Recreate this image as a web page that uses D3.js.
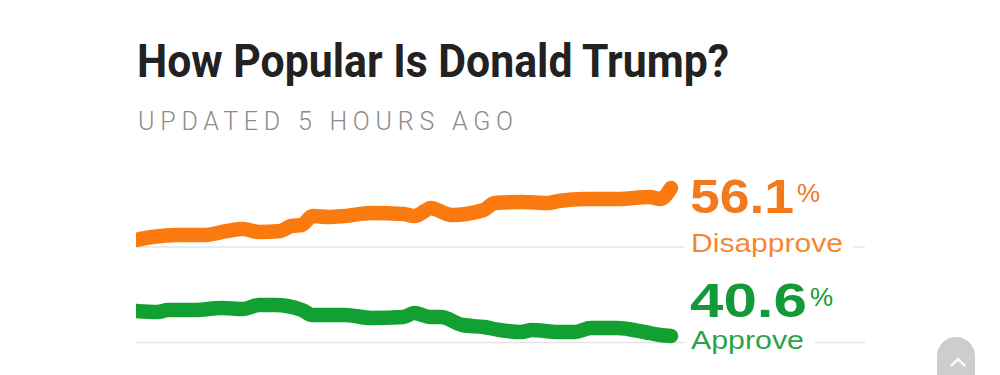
<!DOCTYPE html>
<html>
<head>
<meta charset="utf-8">
<script src="https://cdn.jsdelivr.net/npm/d3@7"></script>
<style>
    html, body { margin: 0; padding: 0; background: #fff; }
    svg { display: block; }
</style>
</head>
<body>
<div id="chart"></div>
<script>
// Значения (день периода -> процент)
const disapproveDays = [0, 3, 8, 13, 17, 20, 23, 27, 29, 31, 33, 36, 39, 44, 50, 52, 54, 55, 59, 65, 67, 72, 77, 79, 84, 90, 96, 98, 100];
const disapproveValues = [50.9, 51.2, 51.4, 51.4, 51.8, 52.0, 51.7, 51.8, 52.3, 52.4, 53.3, 53.2, 53.3, 53.6, 53.5, 53.3, 53.8, 54.1, 53.4, 53.9, 54.6, 54.7, 54.6, 54.8, 55.0, 55.0, 55.2, 55.0, 56.1];

const approveDays = [0, 4, 6, 11, 16, 20, 23, 26, 31, 33, 39, 44, 50, 52, 55, 57, 61, 65, 68, 72, 74, 79, 82, 85, 90, 95, 98, 100];
const approveValues = [43.1, 43.0, 43.2, 43.2, 43.4, 43.3, 43.7, 43.7, 43.2, 42.7, 42.7, 42.4, 42.5, 42.9, 42.5, 42.5, 41.7, 41.5, 41.2, 41.0, 41.2, 41.0, 41.0, 41.4, 41.4, 41.0, 40.7, 40.6];

const titleText = "How Popular Is Donald Trump?";
const subtitleText = "UPDATED 5 HOURS AGO";
const seriesLabels = ["Disapprove", "Approve"];
const latestValues = ["56.1", "40.6"];

const width = 1000;
const height = 375;

const orange = "#fb7a10";
const orangeText = "#f27a1c";
const green = "#12a032";
const greenText = "#139a38";

const svg = d3.select("#chart").append("svg")
    .attr("width", width)
    .attr("height", height);

// Подгонка текста по ширине
function fitText(sel, target, adjust) {
    const len = sel.node().getComputedTextLength();
    if (Math.abs(len - target) > 1) {
        sel.attr("textLength", target).attr("lengthAdjust", adjust || "spacingAndGlyphs");
    }
    return sel;
}

const title = svg.append("text")
    .attr("x", 137)
    .attr("y", 77)
    .attr("font-family", "Roboto, 'Liberation Sans', sans-serif")
    .attr("font-weight", 700)
    .attr("font-size", 47)
    .attr("fill", "#222")
    .text(titleText);
fitText(title, 592);

const subtitle = svg.append("text")
    .attr("x", 138)
    .attr("y", 130)
    .attr("font-family", "Roboto, 'Liberation Sans Narrow', sans-serif")
    .attr("font-weight", 300)
    .attr("font-size", 25)
    .attr("fill", "#8b8b8b")
    .text(subtitleText);
fitText(subtitle, 375, "spacing");

const x = d3.scaleLinear().domain([0, 100]).range([136, 671]);
const yDis = d3.scaleLinear().domain([50, 57]).range([249, 179]);
const yApp = d3.scaleLinear().domain([40, 47]).range([342, 272]);

svg.append("defs").append("clipPath")
    .attr("id", "plot-clip")
    .append("rect")
    .attr("x", 136).attr("y", 150)
    .attr("width", 560).attr("height", 220);

const panels = [
    { days: disapproveDays, values: disapproveValues, y: yDis, color: orange, textColor: orangeText,
      base: 247, numY: 213, labelY: 252, label: seriesLabels[0], value: latestValues[0],
      numW: 104, labelW: 152, tailX: 853 },
    { days: approveDays, values: approveValues, y: yApp, color: green, textColor: greenText,
      base: 342.5, numY: 317, labelY: 349, label: seriesLabels[1], value: latestValues[1],
      numW: 117, labelW: 113, tailX: 815 }
];

panels.forEach(p => {
    // серая базовая линия
    svg.append("line")
        .attr("x1", 136).attr("x2", 684)
        .attr("y1", p.base).attr("y2", p.base)
        .attr("stroke", "#e4e4e4")
        .attr("stroke-width", 1.5);
    svg.append("line")
        .attr("x1", p.tailX).attr("x2", 865)
        .attr("y1", p.base).attr("y2", p.base)
        .attr("stroke", "#e4e4e4")
        .attr("stroke-width", 1.5);

    const points = p.days.map((d, i) => [d, p.values[i]]);
    const line = d3.line()
        .x(d => x(d[0]))
        .y(d => p.y(d[1]))
        .curve(d3.curveMonotoneX);

    svg.append("path")
        .datum(points)
        .attr("clip-path", "url(#plot-clip)")
        .attr("d", line)
        .attr("fill", "none")
        .attr("stroke", p.color)
        .attr("stroke-width", 14.5)
        .attr("stroke-linecap", "round")
        .attr("stroke-linejoin", "round");

    const num = svg.append("text")
        .attr("x", 690)
        .attr("y", p.numY)
        .attr("font-family", "'Liberation Sans', Arial, sans-serif")
        .attr("font-weight", 700)
        .attr("font-size", 49)
        .attr("fill", p.textColor)
        .text(p.value);
    fitText(num, p.numW);

    svg.append("text")
        .attr("x", 690 + p.numW + 3)
        .attr("y", p.numY - 11)
        .attr("font-family", "'Liberation Sans', Arial, sans-serif")
        .attr("font-size", 26)
        .attr("fill", p.textColor)
        .text("%");

    const lbl = svg.append("text")
        .attr("x", 691)
        .attr("y", p.labelY)
        .attr("font-family", "'Liberation Sans', Arial, sans-serif")
        .attr("font-size", 26)
        .attr("fill", p.textColor)
        .attr("fill-opacity", 0.92)
        .text(p.label);
    fitText(lbl, p.labelW);
});

// кнопка «наверх»
const btn = svg.append("g");
btn.append("path")
    .attr("d", "M937,375 V356 A19,19 0 0 1 975,356 V375 Z")
    .attr("fill", "#cdcdcd");
btn.append("path")
    .attr("d", "M951,366 L958,359 L965,366")
    .attr("fill", "none")
    .attr("stroke", "#fff")
    .attr("stroke-width", 2.2);
</script>
</body>
</html>
